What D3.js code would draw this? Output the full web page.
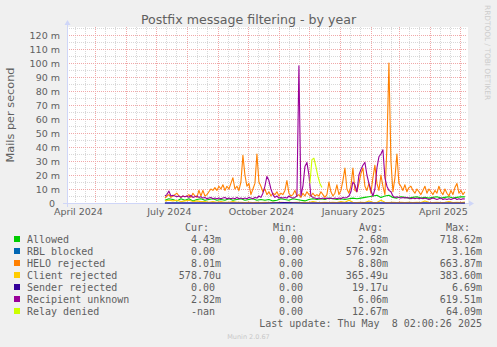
<!DOCTYPE html>
<html><head><meta charset="utf-8">
<script src="https://cdn.jsdelivr.net/npm/d3@7"></script>
<style>
html,body{margin:0;padding:0;background:#f0f0f0;}
svg{display:block;}
text{font-family:"DejaVu Sans",sans-serif;fill:#606060;}
.mono{font-family:"DejaVu Sans Mono",monospace;font-size:10px;white-space:pre;}
</style></head><body>
<svg id="chart" width="497" height="347"></svg>
<script>
// ---------- data ----------
const titleText = "Postfix message filtering - by year";
const yAxisTitle = "Mails per second";
const seriesNames = ["Allowed","RBL blocked","HELO rejected","Client rejected","Sender rejected","Recipient unknown","Relay denied"];
const seriesColors = ["#00cc00","#0066b3","#ff8000","#ffcc00","#330099","#990099","#ccff00"];
const yTickValues = [0,10,20,30,40,50,60,70,80,90,100,110,120];
const xLabelMonths = ["2024-04-01","2024-07-01","2024-10-01","2025-01-01","2025-04-01"];
const timeStart = "2024-04-03T02:00:00Z";
const timeEnd = "2025-05-08T02:00:00Z";
const dataStart = "2024-07-10";

// values in milli (m) mails per second
const allowedStep = 4;
const allowedValues = [2,3,2.5,1.5,3,2,3,1.5,2.5,3,2,2.5,3,2,2.5,2,3,2,2.5,3,2,2.5,3,2,2.5,2,2.5,1.5,2,3,2.5,2,3,2.5,2,1.5,2.5,3,2.5,3,2.5,3.5,3,2.5,3,2.5,3,3.5,3,3.5,4,4.5,5,5.5,4,5,5.5,4,3.5,4.5,4,3.5,4,4.5,3.5,4,3.5,4,4.5,3.5,4,4.5,3.5,4,4.5,4.4];
const rblStep = 20;
const rblValues = [0,0,0,0,0,0,0,0,0,0,0,0,0,0,0,0];
const heloStep = 2;
const heloValues = [3.5,5,6,4,5,6,7,5,4,5,4.5,5,6,4,7,5,4,9,5,9,5,6,8,10,9,11,9,12,10,13,9,12,10,14,18,10,12,9,15,34,20,12,14,6,10,14,35,15,12,8,10,6,8,5,7,6,8,5,7,6,9,16,7,5,6,9,5,6,4,7,5,8,6,5,7,5,6,5,8,6,4,6,15,8,5,7,13,6,9,16,25,10,7,12,25,9,8,14,21,25,12,9,14,7,18,27,14,9,20,12,6,40,100,30,8,18,35,14,12,9,13,8,11,12,9,7,10,8,6,9,12,7,10,8,6,9,7,12,8,6,10,7,5,9,6,11,14,7,9,6,8];
const clientStep = 4;
const clientValues = [1.5,2,1.5,2,1,1.5,2,1,1.5,1,1,0.5,1,0.5,1,0.5,0.5,1,0.5,0.5,0.3,0.5,0.3,0.5,0.3,0.5,0.3,0.5,0.3,0.5,0.3,0.5,0.3,0.5,0.3,0.5,0.3,1,0.5,0.3,0.5,0.3,0.5,0.3,1,0.5,2,0.5,0.3,0.5,0.3,1.5,0.5,0.3,2,0.5,0.3,0.5,0.3,0.5,0.3,0.5,0.3,0.5,0.3,1.5,0.5,0.3,0.5,0.3,0.5,1,0.3,0.5,0.3,0.6];
const senderStep = 20;
const senderValues = [0,0,0,0,0,0,0.4,0,0,0,0,0,0,0,0,0];
const recipientStep = 2;
const recipientValues = [5,6,8.5,5,5.5,5,4.5,5,4,5,4.5,5,4,5.5,4,4.5,5,4,4.5,3.5,4,3,3.5,4,3,3.5,3,3.5,3,3.5,4,3,3.5,3,3.5,3,4,3,3.5,3,3.5,3,4,3.5,3,4,3.5,5,4,7,12,19,16,10,6,4,5,3.5,4,3.5,4,3.5,5,4,3.5,4,5,98,5,12,26,29,20,5,4,3.5,3,3.5,3,3.5,3,3.5,3,3.5,3,3.5,3,3.5,3,4,3.5,4,5,8,15,13,8,20,24,27,29,20,14,9,5,10,25,33,35,38,18,12,9,8,5,4,4.5,4,3.5,4,3.5,4,3.5,3,3.5,3,3.5,3,3.5,3,3.5,3,2.5,3,3.5,3,2.5,3,3.5,2.5,3,2.5,3,2.5,3,3.5,2.5,3,2.5,3,2.8];
const relayStart = "2024-12-02";
const relayStep = 2;
const relayValues = [14,31,32,26,19,14,11];

const legendCur = ["4.43m","0.00","8.01m","578.70u","0.00","2.82m","-nan"];
const legendMin = ["0.00","0.00","0.00","0.00","0.00","0.00","0.00"];
const legendAvg = ["2.68m","576.92n","8.80m","365.49u","19.17u","6.06m","12.67m"];
const legendMax = ["718.62m","3.16m","663.87m","383.60m","6.69m","619.51m","64.09m"];
const lastUpdate = "Last update: Thu May  8 02:00:26 2025";
const watermark = "Munin 2.0.67";
const sideText = "RRDTOOL / TOBI OETIKER";

// ---------- build ----------
function build(startStr, step, values){
  const s = new Date(startStr + "T00:00:00Z");
  return values.map((v,i)=>({date:d3.utcDay.offset(s, i*step), v}));
}
const series = [
  build(dataStart, allowedStep, allowedValues),
  build(dataStart, rblStep, rblValues),
  build(dataStart, heloStep, heloValues),
  build(dataStart, clientStep, clientValues),
  build(dataStart, senderStep, senderValues),
  build(dataStart, recipientStep, recipientValues),
  build(relayStart, relayStep, relayValues)
];

const svg = d3.select("#chart");
const L = 67, R = 467, T = 27, B = 203;
const x = d3.scaleUtc().domain([new Date(timeStart), new Date(timeEnd)]).range([L, R]);
const y = d3.scaleLinear().domain([0, (B - T) / 1.4]).range([B, T]);

// canvas
svg.append("rect").attr("x", L).attr("y", T).attr("width", R - L + 1).attr("height", B - T).attr("fill", "#fff");

const grid = svg.append("g").attr("shape-rendering","crispEdges");
const minorY = d3.range(5, 126, 10);
grid.selectAll(".hmin").data(minorY).join("line")
  .attr("x1", L).attr("x2", R).attr("y1", d=>Math.round(y(d))+0.5).attr("y2", d=>Math.round(y(d))+0.5)
  .attr("stroke","#d8d8d8").attr("stroke-dasharray","1,1");
const months = d3.utcMonth.range(d3.utcMonth.floor(x.domain()[0]), x.domain()[1]);
const minorX = [];
months.forEach(m=>{ [10,20].forEach(o=>{ const d = d3.utcDay.offset(m,o); if(d>x.domain()[0] && d<x.domain()[1]) minorX.push(d); }); });
grid.selectAll(".vmin").data(minorX).join("line")
  .attr("x1", d=>Math.round(x(d))+0.5).attr("x2", d=>Math.round(x(d))+0.5).attr("y1", T).attr("y2", B)
  .attr("stroke","#d8d8d8").attr("stroke-dasharray","1,1");
grid.selectAll(".hmaj").data(yTickValues.filter(d=>d>0)).join("line")
  .attr("x1", L).attr("x2", R).attr("y1", d=>Math.round(y(d))+0.5).attr("y2", d=>Math.round(y(d))+0.5)
  .attr("stroke","#f0a8a8").attr("stroke-dasharray","1,1");
const majorX = months.filter(m=>m>x.domain()[0]);
grid.selectAll(".vmaj").data(majorX).join("line")
  .attr("x1", d=>Math.round(x(d))+0.5).attr("x2", d=>Math.round(x(d))+0.5).attr("y1", T).attr("y2", B)
  .attr("stroke","#f0a8a8").attr("stroke-dasharray","1,1");

// axes
const axisCol = "#cfd6f8";
svg.append("line").attr("x1", L+0.5).attr("x2", L+0.5).attr("y1", B+4).attr("y2", T-3).attr("stroke", axisCol);
svg.append("line").attr("x1", L-4).attr("x2", R+3).attr("y1", B+0.5).attr("y2", B+0.5).attr("stroke", axisCol);
svg.append("path").attr("d", `M${L+0.5},${T-7} L${L-2.5},${T-2} L${L+3.5},${T-2} Z`).attr("fill", axisCol);
svg.append("path").attr("d", `M${R+7},${B+0.5} L${R+2},${B-2.5} L${R+2},${B+3.5} Z`).attr("fill", axisCol);

// y tick labels
svg.selectAll(".ylab").data(yTickValues).join("text")
  .attr("x", d=> d===0 ? 55 : 60).attr("y", d=>y(d)+3.5).attr("text-anchor","end").attr("font-size","9.5px")
  .text(d=> d===0 ? "0" : d + " m");
// x labels
svg.selectAll(".xlab").data(xLabelMonths).join("text")
  .attr("x", d=> x(d3.utcHour.offset(new Date(d+"T00:00:00Z"), 13.5*24)))
  .attr("y", 215).attr("text-anchor","middle").attr("font-size","9.5px")
  .text(d=> d3.utcFormat("%B %Y")(new Date(d+"T00:00:00Z")));

// series lines
const line = d3.line().x(d=>x(d.date)).y(d=>y(d.v));
const lines = svg.append("g");
series.forEach((s,i)=>{
  lines.append("path").datum(s).attr("d", line).attr("fill","none")
    .attr("stroke", seriesColors[i]).attr("stroke-width", 1.1).attr("stroke-linejoin","round");
});

// title & labels
svg.append("text").attr("x", 248.5).attr("y", 24).attr("text-anchor","middle").attr("font-size","12.6px").text(titleText);
svg.append("text").attr("transform","translate(14,115) rotate(-90)").attr("text-anchor","middle").attr("font-size","11.3px").text(yAxisTitle);
svg.append("text").attr("transform","translate(485,5) rotate(90)").attr("text-anchor","start").attr("font-size","7.4px").style("fill","#cccccc").text(sideText);

// legend
const cw = 6.02;
const rowY = i => 243 + i*12;
const hdrY = 231;
const cols = [
  {hdr:"Cur:", hdrEnd:209, end:221, vals:legendCur},
  {hdr:"Min:", hdrEnd:297, end:309, vals:legendMin},
  {hdr:"Avg:", hdrEnd:383, end:388, vals:legendAvg},
  {hdr:"Max:", hdrEnd:470, end:482, vals:legendMax}
];
const lg = svg.append("g");
cols.forEach(c=>{
  lg.append("text").attr("class","mono").attr("x", c.hdrEnd).attr("y", hdrY).attr("text-anchor","end").text(c.hdr);
  c.vals.forEach((v,i)=>{
    const hasUnit = /[a-zA-Z]$/.test(v) && !/nan$/.test(v);
    lg.append("text").attr("class","mono").attr("x", hasUnit ? c.end : c.end - cw).attr("y", rowY(i)).attr("text-anchor","end").text(v);
  });
});
seriesNames.forEach((n,i)=>{
  lg.append("rect").attr("x",14).attr("y",rowY(i)-7).attr("width",6).attr("height",6).attr("fill",seriesColors[i]);
  lg.append("text").attr("class","mono").attr("x",27).attr("y",rowY(i)).text(n);
});
lg.append("text").attr("class","mono").attr("x",482).attr("y",327).attr("text-anchor","end").text(lastUpdate);
svg.append("text").attr("x",248.5).attr("y",338.5).attr("text-anchor","middle").attr("font-size","6.5px").style("fill","#c8c8c8").text(watermark);
</script>
</body></html>
